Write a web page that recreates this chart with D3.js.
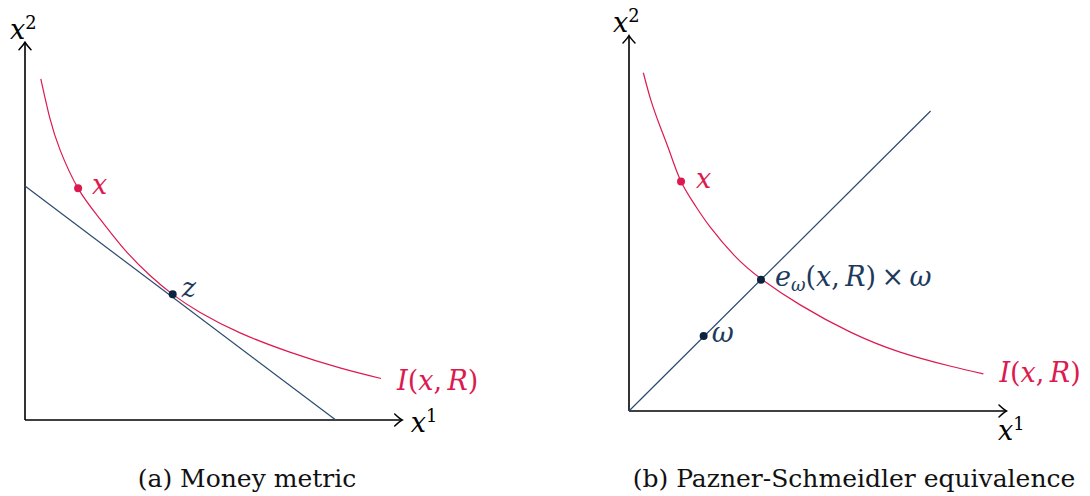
<!DOCTYPE html>
<html>
<head>
<meta charset="utf-8">
<script src="https://cdn.jsdelivr.net/npm/d3@7"></script>
<style>
  body { margin: 0; background: #fff; }
</style>
</head>
<body>
<div id="chart"></div>
<script>
// indifference curve I(x,R) (x1, x2)
const leftCurve = [
    [0.42, 9.04], [0.66, 8.00], [0.93, 7.16], [1.41, 6.14], [1.99, 5.33], [2.65, 4.51], [3.32, 3.83],
    [3.92, 3.33], [4.65, 2.85], [5.71, 2.31], [7.03, 1.80], [8.36, 1.38], [9.45, 1.10]
]
const leftTangent = [[0, 6.20], [8.25, 0]]
const leftPoints = [
    { name: 'x', x1: 1.41, x2: 6.14 },
    { name: 'z', x1: 3.92, x2: 3.33 }
]

const rightCurve = [
    [0.38, 9.02], [0.58, 8.29], [0.82, 7.60], [1.09, 6.88], [1.38, 6.12], [1.75, 5.49], [2.15, 4.91],
    [2.81, 4.13], [3.51, 3.52], [4.54, 2.83], [5.86, 2.11], [7.19, 1.57], [8.51, 1.20], [9.40, 0.99]
]
const rightRay = [[0, 0], [8.0, 8.0]]
const rightPoints = [
    { name: 'x', x1: 1.38, x2: 6.12 },
    { name: 'e', x1: 3.5, x2: 3.5 },
    { name: 'w', x1: 1.98, x2: 2.0 }
]

const captions = ['(a) Money metric', '(b) Pazner-Schmeidler equivalence']

const red = '#dc1a50'
const navy = '#2b4a6c'
const dark = '#0c2340'
const navyText = '#1d3a5c'

const width = 1090
const height = 496
const mathSize = 27

const svg = d3.select('#chart')
    .append('svg')
    .attr('width', width)
    .attr('height', height)
    .attr('font-family', 'DejaVu Serif')

svg.append('defs').append('marker')
    .attr('id', 'arrow')
    .attr('markerUnits', 'userSpaceOnUse')
    .attr('viewBox', '-10 -8 12 16')
    .attr('markerWidth', 12)
    .attr('markerHeight', 16)
    .attr('refX', 0)
    .attr('refY', 0)
    .attr('orient', 'auto')
    .append('path')
    .attr('d', 'M -7 -6 Q -2 -1.3 0.5 0 Q -2 1.3 -7 6')
    .attr('fill', 'none')
    .attr('stroke', '#000')
    .attr('stroke-width', 1.5)
    .attr('stroke-linecap', 'round')

// writes math-like text: parts are [text, style] with style i (italic), sup, sub
const mathText = (g, x, y, parts, color, size) => {
    const t = g.append('text')
        .attr('x', x)
        .attr('y', y)
        .attr('fill', color)
        .attr('font-size', size)
    parts.forEach(([s, st]) => {
        const span = t.append('tspan').text(s)
        if (st && st.includes('i')) span.attr('font-style', 'italic')
        if (st && st.includes('sup')) span.attr('font-size', size * 0.66).attr('baseline-shift', size * 0.36)
        if (st && st.includes('sub')) span.attr('font-size', size * 0.66).attr('baseline-shift', -size * 0.2)
    })
    return t
}

const drawPanel = (cfg) => {
    const xScale = d3.scaleLinear().domain([0, 10]).range(cfg.xRange)
    const yScale = d3.scaleLinear().domain([0, 10]).range(cfg.yRange)
    const g = svg.append('g')
    const line = d3.line().x((d) => xScale(d[0])).y((d) => yScale(d[1]))

    // axes
    g.append('path')
        .attr('d', line([[0, 0], [10, 0]]))
        .attr('stroke', '#000').attr('stroke-width', 1.6).attr('fill', 'none')
        .attr('marker-end', 'url(#arrow)')
    g.append('path')
        .attr('d', line([[0, 0], [0, 10]]))
        .attr('stroke', '#000').attr('stroke-width', 1.6).attr('fill', 'none')
        .attr('marker-end', 'url(#arrow)')

    g.append('path')
        .attr('d', line(cfg.straight))
        .attr('stroke', navy).attr('stroke-width', 1.2).attr('fill', 'none')

    g.append('path')
        .attr('d', line.curve(d3.curveNatural)(cfg.curve))
        .attr('stroke', red).attr('stroke-width', 1.2).attr('fill', 'none')

    g.selectAll('circle')
        .data(cfg.points)
        .enter()
        .append('circle')
        .attr('cx', (d) => xScale(d.x1))
        .attr('cy', (d) => yScale(d.x2))
        .attr('r', 4)
        .attr('fill', (d) => d.name === 'x' ? red : dark)

    cfg.points.forEach((d) => {
        const lab = cfg.labels[d.name]
        mathText(g, xScale(d.x1) + lab.dx, yScale(d.x2) + lab.dy, lab.parts, d.name === 'x' ? red : navyText, mathSize)
    })

    const last = cfg.curve[cfg.curve.length - 1]
    mathText(g, xScale(last[0]) + cfg.iOff[0], yScale(last[1]) + cfg.iOff[1],
        [['I', 'i'], ['('], ['x', 'i'], [','], ['\u2009R', 'i'], [')']], red, mathSize)

    mathText(g, xScale(0) + cfg.x2Off[0], yScale(10) + cfg.x2Off[1], [['x', 'i'], ['2', 'sup']], '#000', mathSize)
    mathText(g, xScale(10) + cfg.x1Off[0], yScale(0) + cfg.x1Off[1], [['x', 'i'], ['1', 'sup']], '#000', mathSize)

    svg.append('text')
        .attr('x', cfg.captionX)
        .attr('y', 487)
        .attr('text-anchor', 'middle')
        .attr('font-size', 25)
        .attr('fill', '#111')
        .text(cfg.caption)
}

drawPanel({
    xRange: [25, 401.7],
    yRange: [420, 42.7],
    curve: leftCurve,
    straight: leftTangent,
    points: leftPoints,
    labels: {
        x: { dx: 14, dy: 6, parts: [['x', 'i']] },
        z: { dx: 9, dy: 3, parts: [['z', 'i']] }
    },
    iOff: [16, 12],
    x2Off: [-15, -4],
    x1Off: [9, 12],
    caption: captions[0],
    captionX: 247
})

drawPanel({
    xRange: [629, 1006],
    yRange: [411, 36],
    curve: rightCurve,
    straight: rightRay,
    points: rightPoints,
    labels: {
        x: { dx: 15, dy: 6, parts: [['x', 'i']] },
        e: { dx: 14, dy: 6, parts: [['e', 'i'], ['ω', 'i sub'], ['('], ['x', 'i'], [','], ['\u2009R', 'i'], [')\u2009×\u2009'], ['ω', 'i']] },
        w: { dx: 8, dy: 6, parts: [['ω', 'i']] }
    },
    iOff: [16, 8],
    x2Off: [-16, -4],
    x1Off: [-8, 29],
    caption: captions[1],
    captionX: 854
})
</script>
</body>
</html>
